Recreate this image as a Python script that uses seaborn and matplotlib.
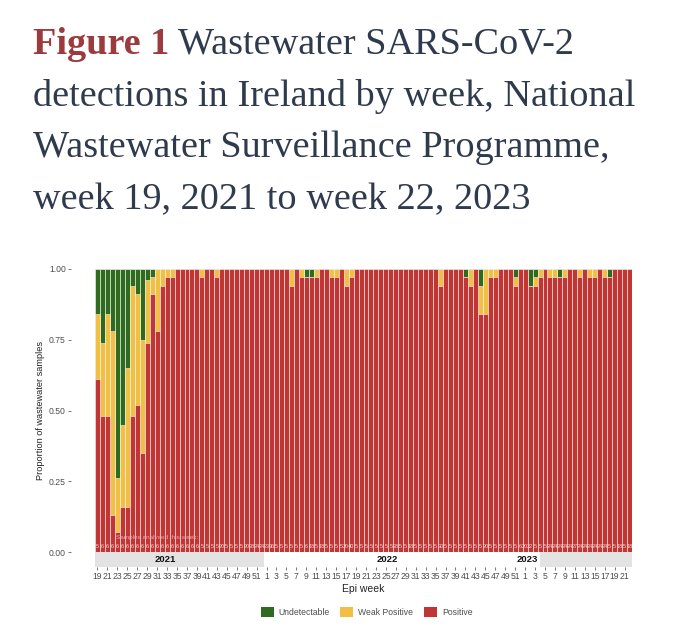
"""
Wastewater SARS-CoV-2 detections in Ireland by week (stacked proportion bars)
"""
import matplotlib
matplotlib.use("Agg")
import matplotlib.pyplot as plt
from matplotlib.patches import Patch, Rectangle
import matplotlib.transforms as mtransforms
import numpy as np
import pandas as pd
import seaborn as sns

# ---- data ----
years = [2021] * 34 + [2022] * 52 + [2023] * 22
weeks = list(range(19, 53)) + list(range(1, 53)) + list(range(1, 23))

# proportion of samples that were Positive, per week
positive = [
    # 2021 wk19-52
    0.61, 0.48, 0.48, 0.13, 0.07, 0.16, 0.16, 0.48, 0.52, 0.35,
    0.74, 0.91, 0.78, 0.94, 0.97, 0.97, 1, 1, 1, 1,
    1, 0.97, 1, 1, 0.97, 1, 1, 1, 1, 1, 1, 1, 1, 1,
    # 2022 wk1-52
    1, 1, 1, 1, 1, 0.94, 1, 0.97, 0.97, 0.97,
    0.97, 1, 1, 0.97, 0.97, 1, 0.94, 0.97, 1, 1,
    1, 1, 1, 1, 1, 1, 1, 1, 1, 1,
    1, 1, 1, 1, 1, 0.94, 1, 1, 1, 1,
    0.97, 0.94, 1, 0.84, 0.84, 0.97, 0.97, 1, 1, 1,
    0.94, 1,
    # 2023 wk1-22
    1, 0.94, 0.94, 0.97, 1, 0.97, 0.97, 0.97, 0.97, 1,
    1, 0.97, 1, 0.97, 0.97, 1, 0.97, 0.97, 1, 1,
    1, 1,
]
# proportion Weak Positive
weak = [
    # 2021
    0.23, 0.26, 0.36, 0.65, 0.19, 0.29, 0.49, 0.46, 0.39, 0.40,
    0.22, 0.06, 0.22, 0.06, 0.03, 0.03, 0, 0, 0, 0,
    0, 0.03, 0, 0, 0.03, 0, 0, 0, 0, 0, 0, 0, 0, 0,
    # 2022
    0, 0, 0, 0, 0, 0.06, 0, 0.03, 0, 0,
    0.03, 0, 0, 0.03, 0.03, 0, 0.06, 0.03, 0, 0,
    0, 0, 0, 0, 0, 0, 0, 0, 0, 0,
    0, 0, 0, 0, 0, 0.06, 0, 0, 0, 0,
    0, 0.06, 0, 0.10, 0.16, 0.03, 0.03, 0, 0, 0,
    0.03, 0,
    # 2023
    0, 0, 0.03, 0.03, 0, 0.03, 0.03, 0, 0.03, 0,
    0, 0.03, 0, 0.03, 0.03, 0, 0.03, 0, 0, 0,
    0, 0,
]
# number of samples analysed each week (small labels on the bars)
samples = [
    # 2021
    5, 6, 6, 6, 6, 6, 6, 6, 6, 6, 6, 6, 6, 6, 6, 6, 6, 6, 6, 6,
    6, 5, 5, 5, 5, 20, 5, 5, 5, 5, 20, 28, 24, 24,
    # 2022
    23, 36, 5, 5, 5, 5, 5, 5, 6, 18, 5, 18, 5, 5, 5, 5, 20, 40, 5, 5,
    5, 5, 5, 5, 5, 5, 28, 5, 5, 18, 5, 5, 5, 5, 5, 30, 5, 5, 5, 5,
    5, 5, 5, 5, 20, 5, 5, 5, 5, 5, 5, 6,
    # 2023
    20, 22, 5, 5, 5, 24, 24, 24, 24, 24, 27, 24, 24, 24, 24, 24, 24, 5, 5, 18,
    5, 18,
]

colors = {"Undetectable": "#2e6b1f", "Weak Positive": "#f2bf45", "Positive": "#c23535"}

df = pd.DataFrame({"year": years, "week": weeks, "positive": positive, "weak": weak})
df["undetectable"] = 1 - df["positive"] - df["weak"]
df["idx"] = np.arange(len(df))

# ---- figure ----
sns.set_style("white")
plt.rcParams["font.family"] = ["Liberation Sans", "DejaVu Sans"]

fig = plt.figure(figsize=(6.8, 6.43), dpi=100)
ax = fig.add_axes([95 / 680, 1 - 552 / 643, 537 / 680, 283 / 643])

edge = (1, 1, 1, 0.75)
# stacked: full bar green, then red+yellow, then red on top
sns.barplot(x="idx", y=df["positive"] + df["weak"] + df["undetectable"], data=df,
            color=colors["Undetectable"], width=1, edgecolor=edge, linewidth=0.5,
            errorbar=None, saturation=1, ax=ax)
sns.barplot(x="idx", y=df["positive"] + df["weak"], data=df,
            color=colors["Weak Positive"], width=1, edgecolor=edge, linewidth=0.5,
            errorbar=None, saturation=1, ax=ax)
sns.barplot(x="idx", y="positive", data=df,
            color=colors["Positive"], width=1, edgecolor=edge, linewidth=0.5,
            errorbar=None, saturation=1, ax=ax)

ax.set_xlim(-0.5, len(df) - 0.5)
ax.set_ylim(0, 1)
for s in ax.spines.values():
    s.set_visible(False)
ax.spines["left"].set_position(("outward", 17))
ax.spines["bottom"].set_position(("outward", 10.5))

# sample counts
ax.text(3.8, 0.053, "Samples analysed this week:", fontsize=4.6, color="#f0a7ae",
        ha="left", va="center")
for i, n in enumerate(samples):
    ax.text(i, 0.021, str(n), fontsize=4, color="#f7d2d2", ha="center", va="center")

# year strip under the bars
trans = mtransforms.blended_transform_factory(ax.transData, ax.transAxes)
for x0, x1 in [(-0.5, 33.5), (89.0, len(df) - 0.5)]:
    ax.add_patch(Rectangle((x0, -0.053), x1 - x0, 0.053, transform=trans,
                           facecolor="#e3e3e3", edgecolor="none", clip_on=False))
for xc, lab in [(13.7, "2021"), (58.3, "2022"), (86.5, "2023")]:
    ax.text(xc, -0.027, lab, transform=trans, fontsize=6.8, fontweight="bold",
            color="#111111", ha="center", va="center")

# ticks
odd = df[df["week"] % 2 == 1]
ax.set_xticks(odd["idx"].tolist())
ax.set_xticklabels(odd["week"].astype(str).tolist())
ax.set_yticks([0, 0.25, 0.5, 0.75, 1.0])
ax.set_yticklabels(["0.00", "0.25", "0.50", "0.75", "1.00"])
ax.tick_params(axis="both", length=2.5, width=0.5, color="#444444",
               labelsize=6.2, labelcolor="#4d4d4d", pad=1.5)
ax.tick_params(axis="x", bottom=True)
ax.tick_params(axis="y", left=True)

ax.set_xlabel("Epi week", fontsize=7.5, color="#222222", labelpad=2)
ax.set_ylabel("Proportion of wastewater samples", fontsize=6.6, color="#222222", labelpad=3)

# legend
handles = [Patch(facecolor=c, edgecolor="none") for c in colors.values()]
fig.legend(handles, list(colors.keys()), loc="center", bbox_to_anchor=(0.539, 1 - 612 / 643),
           ncol=3, frameon=False, fontsize=6.2, handlelength=1.5, handleheight=1.5,
           columnspacing=1.2, handletextpad=0.6, labelcolor="#4d4d4d")

# title: bold red "Figure 1" followed by the rest on the same baseline
serif = ["Liberation Serif", "DejaVu Serif"]
tsize = 27.5
t1 = fig.text(33 / 680, 1 - 62 / 643, "Figure 1", fontsize=tsize, fontweight="bold",
              color="#9c3b3d", family=serif, va="bottom", ha="left")
ax.annotate(" Wastewater SARS-CoV-2", xy=(1, 0), xycoords=t1, fontsize=tsize,
            color="#2f3a4d", family=serif, va="bottom", ha="left", annotation_clip=False)
for k, line in enumerate(["detections in Ireland by week, National",
                          "Wastewater Surveillance Programme,",
                          "week 19, 2021 to week 22, 2023"]):
    fig.text(33 / 680, 1 - (62 + 51.7 * (k + 1)) / 643, line, fontsize=tsize,
             color="#2f3a4d", family=serif, va="bottom", ha="left")

fig.savefig("out.png", dpi=100)
plt.close(fig)
